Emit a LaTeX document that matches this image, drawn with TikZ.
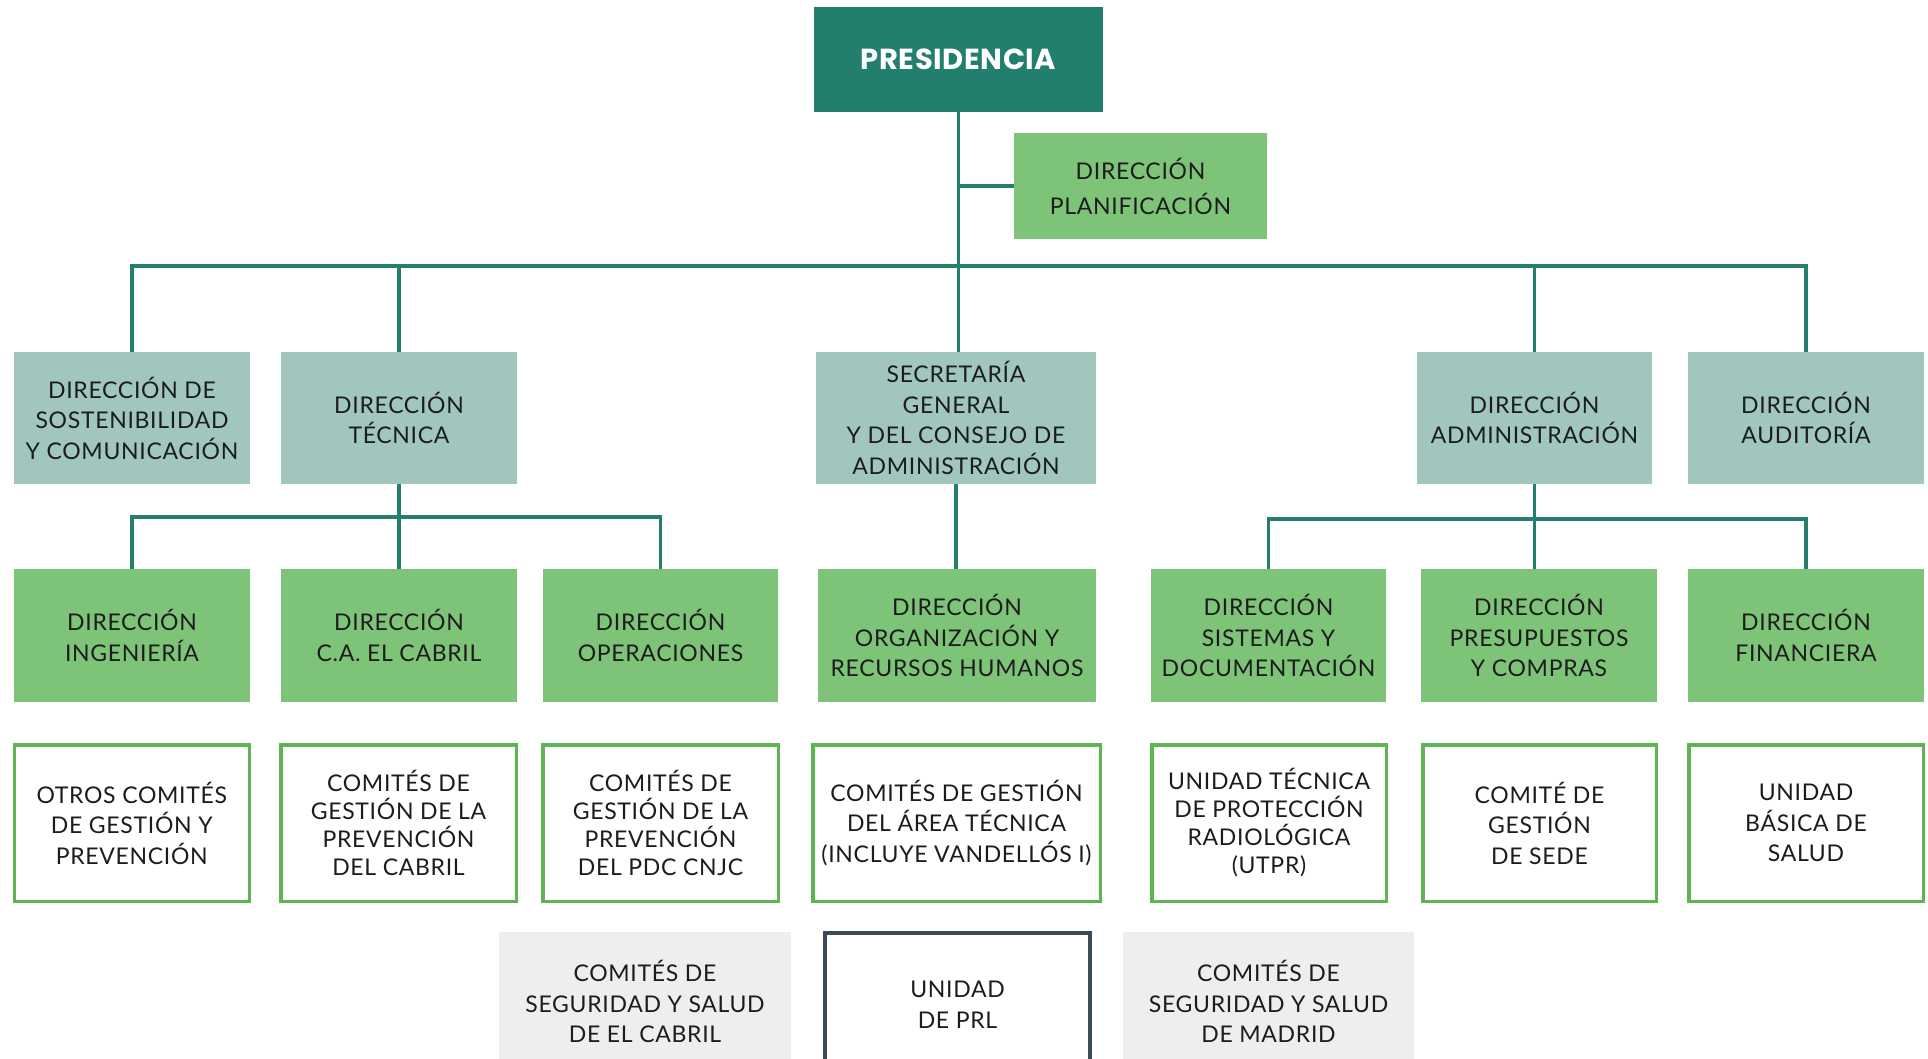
\documentclass[tikz,border=0pt]{standalone}
\usepackage{fontspec}
\setmainfont{Lato}[LetterSpace=3]
\newfontfamily\headfont{Poppins}[LetterSpace=2]
\definecolor{presC}{HTML}{237F6D}
\definecolor{tealL}{HTML}{A0C6BE}
\definecolor{greenF}{HTML}{7EC478}
\definecolor{greenO}{HTML}{5DB552}
\definecolor{grayF}{HTML}{EEEEEE}
\definecolor{prlC}{HTML}{3C4A5A}
\definecolor{lineC}{HTML}{267F6E}
\definecolor{txt}{HTML}{1C1C1C}
\newcommand{\bodyfont}{\fontsize{23}{30.5}\selectfont}
\newcommand{\tightfont}{\fontsize{23}{28}\selectfont}
\newcommand{\planfont}{\fontsize{23}{35}\selectfont}
\begin{document}
\begin{tikzpicture}[x=1pt,y=-1pt,
  base/.style={rectangle, inner sep=0pt, align=center, text=txt, font=\bodyfont},
  tealbox/.style={base, fill=tealL},
  greenbox/.style={base, fill=greenF},
  outbox/.style={base, draw=greenO, line width=3.5pt, fill=white},
  graybox/.style={base, fill=grayF},
  link/.style={draw=lineC, line width=3.5pt, line join=miter},
]
\clip (0,0) rectangle (1928,1059);
\fill[white] (0,0) rectangle (1928,1059);

% top
\node[base, fill=presC, text=white, font=\headfont\bfseries\fontsize{29}{32}\selectfont,
      minimum width=289pt, minimum height=105pt] (pres) at (958.5,59.5) {PRESIDENCIA};
\node[greenbox, font=\planfont, minimum width=253pt, minimum height=106pt] (plan) at (1140.5,186)
  {DIRECCIÓN\\PLANIFICACIÓN};

% row 2
\node[tealbox, minimum width=236pt, minimum height=132pt] (sost) at (132,418)
  {DIRECCIÓN DE\\SOSTENIBILIDAD\\Y COMUNICACIÓN};
\node[tealbox, minimum width=236pt, minimum height=132pt] (tec) at (399,418)
  {DIRECCIÓN\\TÉCNICA};
\node[tealbox, minimum width=280pt, minimum height=132pt] (sec) at (956,418)
  {SECRETARÍA\\GENERAL\\Y DEL CONSEJO DE\\ADMINISTRACIÓN};
\node[tealbox, minimum width=235pt, minimum height=132pt] (adm) at (1534.5,418)
  {DIRECCIÓN\\ADMINISTRACIÓN};
\node[tealbox, minimum width=236pt, minimum height=132pt] (aud) at (1806,418)
  {DIRECCIÓN\\AUDITORÍA};

% row 3
\node[greenbox, minimum width=236pt, minimum height=133pt] (ing) at (132,635.5)
  {DIRECCIÓN\\INGENIERÍA};
\node[greenbox, minimum width=236pt, minimum height=133pt] (cab) at (399,635.5)
  {DIRECCIÓN\\C.A. EL CABRIL};
\node[greenbox, minimum width=235pt, minimum height=133pt] (ope) at (660.5,635.5)
  {DIRECCIÓN\\OPERACIONES};
\node[greenbox, minimum width=278pt, minimum height=133pt] (org) at (957,635.5)
  {DIRECCIÓN\\ORGANIZACIÓN Y\\RECURSOS HUMANOS};
\node[greenbox, minimum width=235pt, minimum height=133pt] (sis) at (1268.5,635.5)
  {DIRECCIÓN\\SISTEMAS Y\\DOCUMENTACIÓN};
\node[greenbox, minimum width=236pt, minimum height=133pt] (pre) at (1539,635.5)
  {DIRECCIÓN\\PRESUPUESTOS\\Y COMPRAS};
\node[greenbox, minimum width=236pt, minimum height=133pt] (fin) at (1806,635.5)
  {DIRECCIÓN\\FINANCIERA};

% row 4
\node[outbox, minimum width=235pt, minimum height=156.5pt] (c1) at (131.75,823)
  {OTROS COMITÉS\\DE GESTIÓN Y\\PREVENCIÓN};
\node[outbox, font=\tightfont, minimum width=235.5pt, minimum height=156.5pt] (c2) at (398.5,823)
  {COMITÉS DE\\GESTIÓN DE LA\\PREVENCIÓN\\DEL CABRIL};
\node[outbox, font=\tightfont, minimum width=235.5pt, minimum height=156.5pt] (c3) at (660.5,823)
  {COMITÉS DE\\GESTIÓN DE LA\\PREVENCIÓN\\DEL PDC CNJC};
\node[outbox, minimum width=287.5pt, minimum height=156.5pt] (c4) at (956.5,823)
  {COMITÉS DE GESTIÓN\\DEL ÁREA TÉCNICA\\(INCLUYE VANDELLÓS I)};
\node[outbox, font=\tightfont, minimum width=234.5pt, minimum height=156.5pt] (c5) at (1269,823)
  {UNIDAD TÉCNICA\\DE PROTECCIÓN\\RADIOLÓGICA\\(UTPR)};
\node[outbox, minimum width=233.5pt, minimum height=156.5pt] (c6) at (1539.5,823)
  {COMITÉ DE\\GESTIÓN\\DE SEDE};
\node[outbox, minimum width=234.5pt, minimum height=156.5pt] (c7) at (1806,823)
  {UNIDAD\\BÁSICA DE\\SALUD};

% row 5
\node[graybox, minimum width=292pt, minimum height=139pt] (sl) at (645,1001.5)
  {COMITÉS DE\\SEGURIDAD Y SALUD\\DE EL CABRIL};
\node[base, draw=prlC, line width=4pt, fill=white, minimum width=265pt, minimum height=144pt] (prl) at (957.5,1005)
  {UNIDAD\\DE PRL};
\node[graybox, minimum width=291pt, minimum height=139pt] (sr) at (1268.5,1001.5)
  {COMITÉS DE\\SEGURIDAD Y SALUD\\DE MADRID};

% connectors
\coordinate (tb) at (0,266);
\coordinate (tcb) at (0,517);
\coordinate (ab) at (0,519);
\draw[link] (pres.south) -- (pres.south |- sec.north);
\draw[link] (pres.south |- plan.west) -- (plan.west);
\draw[link] (sost.north) -- (sost.north |- tb) -- (aud.north |- tb) -- (aud.north);
\draw[link] (tec.north |- tb) -- (tec.north);
\draw[link] (adm.north |- tb) -- (adm.north);
\draw[link] (ing.north) -- (ing.north |- tcb) -- (ope.north |- tcb) -- (ope.north);
\draw[link] (tec.south) -- (cab.north);
\draw[link] (sec.south) -- (sec.south |- org.north);
\draw[link] (sis.north) -- (sis.north |- ab) -- (fin.north |- ab) -- (fin.north);
\draw[link] (adm.south) -- (adm.south |- pre.north);
\end{tikzpicture}
\end{document}
